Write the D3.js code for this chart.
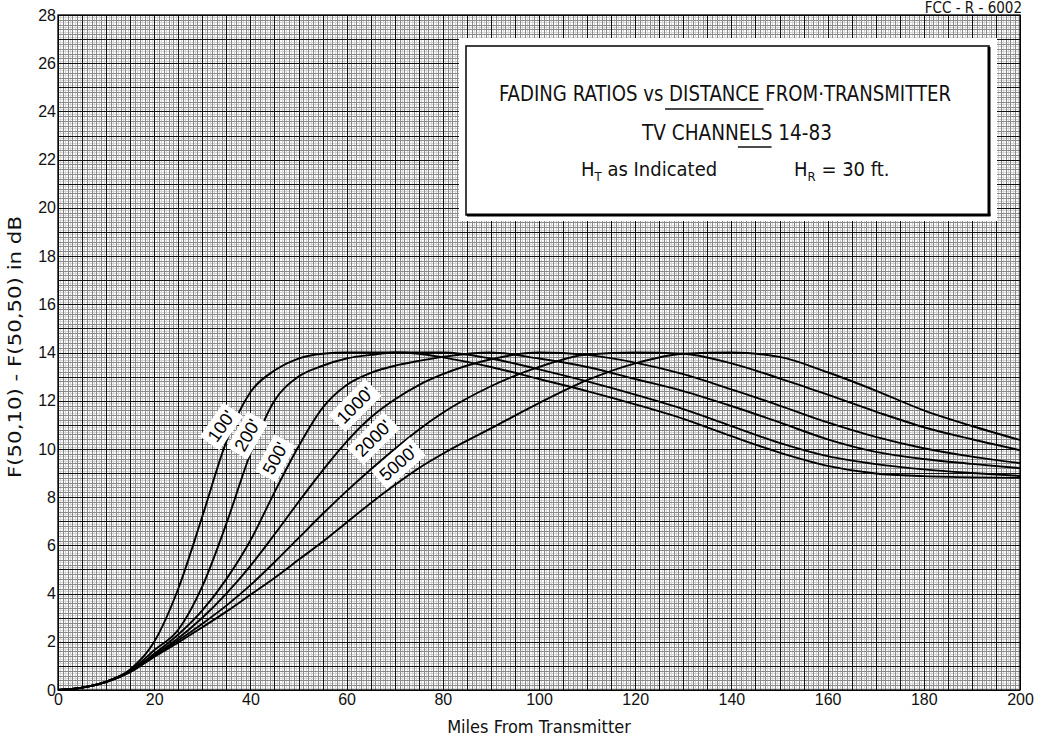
<!DOCTYPE html>
<html><head><meta charset="utf-8">
<script src="https://cdn.jsdelivr.net/npm/d3@7"></script>
<style>
html,body{margin:0;padding:0;background:#fff;}
svg{display:block;}
</style></head>
<body>
<svg id="chart" width="1041" height="745"></svg>
<script>
// ---- DATA ----
const miles = [0,5,10,15,20,25,30,35,40,45,50,55,60,65,70,75,80,90,100,110,120,130,140,150,160,170,180,190,200];
const h100  = [0,0.1,0.35,0.85,2.0,4.2,7.2,10.3,12.35,13.25,13.75,13.95,14.0,14.0,14.0,13.95,13.8,13.4,12.9,12.4,11.85,11.25,10.53,9.85,9.3,8.98,8.87,8.82,8.8];
const h200  = [0,0.1,0.35,0.8,1.65,2.5,4.3,6.9,9.8,12.0,13.0,13.45,13.75,13.9,14.0,14.0,14.0,13.75,13.3,12.8,12.25,11.65,10.95,10.25,9.7,9.37,9.15,9.0,8.88];
const h500  = [0,0.1,0.34,0.78,1.5,2.3,3.3,4.6,6.2,8.2,10.1,11.7,12.65,13.15,13.45,13.65,13.82,14.0,13.75,13.4,12.9,12.4,11.78,11.1,10.4,9.88,9.58,9.38,9.2];
const h1000 = [0,0.1,0.34,0.76,1.45,2.15,3.0,4.0,5.15,6.45,7.8,9.1,10.3,11.3,12.05,12.65,13.1,13.72,14.0,13.9,13.58,13.1,12.47,11.8,11.1,10.5,10.03,9.68,9.41];
const h2000 = [0,0.1,0.33,0.75,1.4,2.05,2.75,3.5,4.35,5.3,6.3,7.3,8.25,9.15,10.0,10.8,11.5,12.6,13.4,13.92,14.0,13.95,13.55,12.93,12.25,11.55,10.9,10.4,9.95];
const h5000 = [0,0.1,0.33,0.74,1.37,1.97,2.6,3.25,3.95,4.65,5.4,6.15,6.95,7.75,8.5,9.2,9.8,10.85,11.9,12.85,13.55,13.95,14.0,13.82,13.18,12.42,11.6,10.95,10.37];

const seriesNames = ["100'","200'","500'","1000'","2000'","5000'"];
const seriesValues = [h100,h200,h500,h1000,h2000,h5000];
const labelMiles = [33.9, 39.3, 45.1, 61.7, 65.5, 70.7];
const labelDb    = [10.95, 10.58, 9.62, 11.82, 10.45, 9.42];
const labelAngle = [-55, -60, -62, -45, -45, -41];

const xTicks = [0,20,40,60,80,100,120,140,160,180,200];
const yTicks = [0,2,4,6,8,10,12,14,16,18,20,22,24,26,28];

const titleLines = ["FADING RATIOS vs DISTANCE FROM\u00B7TRANSMITTER", "TV CHANNELS 14-83"];
const xTitle = "Miles From Transmitter";
const yTitle = "F(50,10) - F(50,50) in dB";
const docId = "FCC - R - 6002";

// ---- LAYOUT ----
const svg = d3.select("#chart");
const x = d3.scaleLinear().domain([0,200]).range([58,1020]);
const y = d3.scaleLinear().domain([0,28]).range([690,15]);
const condensed = "'Liberation Sans Narrow','DejaVu Sans Condensed','Arial Narrow',sans-serif";
const plain = "'Liberation Sans','DejaVu Sans',Arial,sans-serif";

// grid
const grid = svg.append("g");
function vlines(step, color){
  grid.append("g").attr("shape-rendering","crispEdges").selectAll("line").data(d3.range(0,200+1e-6,step)).join("line")
    .attr("x1",d=>Math.round(x(d))+0.5).attr("x2",d=>Math.round(x(d))+0.5).attr("y1",y(0)).attr("y2",y(28))
    .attr("stroke",color).attr("stroke-width",1);
}
function hlines(step, color){
  grid.append("g").attr("shape-rendering","crispEdges").selectAll("line").data(d3.range(0,28+1e-6,step)).join("line")
    .attr("y1",d=>Math.round(y(d))+0.5).attr("y2",d=>Math.round(y(d))+0.5).attr("x1",x(0)).attr("x2",x(200))
    .attr("stroke",color).attr("stroke-width",1);
}
vlines(0.5,"#d4d4d4"); hlines(0.1,"#d4d4d4");
vlines(1,"#8a8a8a"); hlines(0.2,"#8a8a8a");
vlines(5,"#111"); hlines(1,"#111");
grid.append("rect").attr("x",x(0)).attr("y",y(28)).attr("width",x(200)-x(0)).attr("height",y(0)-y(28))
  .attr("fill","none").attr("stroke","#000").attr("stroke-width",1.3);

// title box
svg.append("rect").attr("x",459).attr("y",38).attr("width",538).attr("height",183).attr("fill","#fff");
svg.append("rect").attr("x",466).attr("y",46).attr("width",523).attr("height",169)
  .attr("fill","#fff").attr("stroke","#111").attr("stroke-width",1.6);
svg.append("line").attr("x1",989).attr("x2",989).attr("y1",47).attr("y2",216).attr("stroke","#000").attr("stroke-width",3);
svg.append("line").attr("x1",467).attr("x2",990.5).attr("y1",215).attr("y2",215).attr("stroke","#000").attr("stroke-width",3);

const t1 = svg.append("text").attr("x",725).attr("y",101).attr("text-anchor","middle")
  .attr("font-family",condensed).attr("font-size",22).attr("fill","#111")
  .attr("textLength",452).attr("lengthAdjust","spacingAndGlyphs").text(titleLines[0]);
const t2 = svg.append("text").attr("x",737).attr("y",140).attr("text-anchor","middle")
  .attr("font-family",condensed).attr("font-size",22).attr("fill","#111")
  .attr("textLength",190).attr("lengthAdjust","spacingAndGlyphs").text(titleLines[1]);
function underline(t, before, upto, yy, padL, padR){
  const n = t.node();
  const full = n.getComputedTextLength();
  const bb = n.getBBox();
  const scale = (+t.attr("textLength"))/full;
  const a = n.getSubStringLength(0,before.length)*scale;
  const b = n.getSubStringLength(0,upto.length)*scale;
  svg.append("line").attr("x1",bb.x+a-padL).attr("x2",bb.x+b+padR).attr("y1",yy).attr("y2",yy)
    .attr("stroke","#111").attr("stroke-width",1.6);
}
try{
  underline(t1,"FADING RATIOS vs ","FADING RATIOS vs DISTANCE",109,4,4);
  underline(t2,"TV CHANN","TV CHANNELS",147,0,0);
}catch(e){}

const l3a = svg.append("text").attr("x",581).attr("y",176).attr("font-family",condensed).attr("font-size",20).attr("fill","#111");
l3a.append("tspan").text("H");
l3a.append("tspan").attr("font-size",13).attr("dy",5).text("T");
l3a.append("tspan").attr("dy",-5).text(" as Indicated");
const l3b = svg.append("text").attr("x",794).attr("y",176).attr("font-family",condensed).attr("font-size",20).attr("fill","#111");
l3b.append("tspan").text("H");
l3b.append("tspan").attr("font-size",13).attr("dy",5).text("R");
l3b.append("tspan").attr("dy",-5).text(" = 30 ft.");

// curves
const line = d3.line().x((d,i)=>x(miles[i])).y(d=>y(d)).curve(d3.curveMonotoneX);
svg.append("g").selectAll("path").data(seriesValues).join("path")
  .attr("d",line).attr("fill","none").attr("stroke","#000").attr("stroke-width",1.9);

// curve labels
const lg = svg.append("g").selectAll("g").data(seriesNames).join("g")
  .attr("transform",(d,i)=>`translate(${x(labelMiles[i])},${y(labelDb[i])}) rotate(${labelAngle[i]})`);
lg.append("text").attr("text-anchor","middle").attr("dy","0.36em")
  .attr("font-family",plain).attr("font-size",18).attr("fill","#000").text(d=>d);
lg.each(function(){
  const g = d3.select(this);
  const bb = g.select("text").node().getBBox();
  g.insert("rect","text").attr("x",bb.x-4).attr("y",bb.y-2).attr("width",bb.width+8).attr("height",bb.height+4).attr("fill","#fff");
});

// axes
const xa = svg.append("g").attr("transform",`translate(0,${y(0)})`)
  .call(d3.axisBottom(x).tickValues(xTicks).tickSize(0).tickPadding(4).tickFormat(d3.format("d")));
xa.select(".domain").remove();
xa.selectAll("text").attr("font-family",plain).attr("font-size",16).attr("fill","#111");
const ya = svg.append("g").attr("transform",`translate(${x(0)-1},0)`)
  .call(d3.axisLeft(y).tickValues(yTicks).tickSize(0).tickPadding(1).tickFormat(d3.format("d")));
ya.select(".domain").remove();
ya.selectAll("text").attr("font-family",plain).attr("font-size",16).attr("fill","#111");

// titles
svg.append("text").attr("x",539).attr("y",733).attr("text-anchor","middle")
  .attr("font-family",condensed).attr("font-size",18).attr("fill","#111").text(xTitle);
svg.append("text").attr("transform","translate(21,347) rotate(-90)").attr("text-anchor","middle")
  .attr("font-family",condensed).attr("font-size",18).attr("fill","#111")
  .attr("textLength",262).attr("lengthAdjust","spacingAndGlyphs").text(yTitle);
svg.append("text").attr("x",1022).attr("y",13).attr("text-anchor","end")
  .attr("font-family",condensed).attr("font-size",15).attr("fill","#111").text(docId);
</script>
</body></html>
